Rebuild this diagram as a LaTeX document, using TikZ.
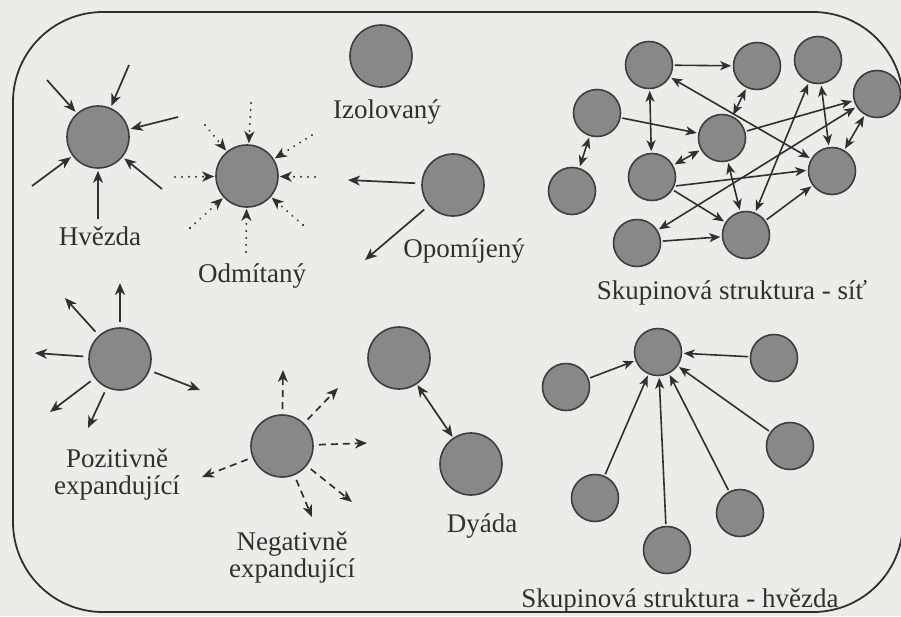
\documentclass[tikz,border=0pt]{standalone}
\usepackage{fontspec}
\setmainfont{Liberation Serif}
\usetikzlibrary{arrows.meta,calc}
\definecolor{bg}{RGB}{236,236,233}
\definecolor{ink}{RGB}{48,48,48}
\definecolor{ballfill}{RGB}{136,136,136}
\definecolor{ballline}{RGB}{62,62,62}
\begin{document}
\begin{tikzpicture}[x=1pt,y=-1pt,
  big/.style={circle,draw=ballline,fill=ballfill,line width=1.6pt,minimum size=62pt,inner sep=0pt},
  small/.style={circle,draw=ballline,fill=ballfill,line width=1.6pt,minimum size=47pt,inner sep=0pt},
  lab/.style={text=ink,font=\fontsize{27}{27}\selectfont,inner sep=0pt},
  tip/.tip={Stealth[length=12pt,width=10pt,inset=3.5pt]},
  stip/.tip={Stealth[length=11pt,width=9pt,inset=3pt]},
  arr/.style={draw=ink,line width=1.7pt,-tip},
  sarr/.style={draw=ink,line width=1.6pt,-stip,shorten >=1.5pt,shorten <=1.5pt},
  sdarr/.style={draw=ink,line width=1.6pt,stip-stip,shorten >=1.5pt,shorten <=1.5pt},
  dotarr/.style={arr,dash pattern=on 0.01pt off 7pt,line cap=round,line width=2.2pt},
  dasharr/.style={arr,dash pattern=on 7pt off 5pt},
]
\useasboundingbox (0,0) rectangle (901,616);
\fill[bg] (0,0) rectangle (901,616);
\draw[ink,line width=1.8pt,rounded corners=90pt] (13,12) rectangle (903,612);

% --- Hvezda
\node[big] (H) at (98,137) {};
\coordinate (h1) at (47,80);
\coordinate (h2) at (129,65);
\coordinate (h3) at (178,117);
\coordinate (h4) at (32,186);
\coordinate (h5) at (98,219);
\coordinate (h6) at (162,189);
\foreach \c in {h1,h2,h3,h4,h5,h6} \draw[arr,shorten >=2pt] (\c) -- (H);
\node[lab,anchor=base] (Hl) at (100,245) {Hvězda};

% --- Odmitany
\node[big] (O) at (247,176) {};
\coordinate (o1) at (251,103);
\coordinate (o2) at (312,135);
\coordinate (o3) at (315,177);
\coordinate (o4) at (303,225);
\coordinate (o5) at (246,252);
\coordinate (o6) at (190,228);
\coordinate (o7) at (175,177);
\coordinate (o8) at (205,125);
\foreach \c in {o1,o2,o3,o4,o5,o6,o7,o8} \draw[dotarr,shorten >=1pt] (\c) -- (O);
\node[lab,anchor=base] (Ol) at (252,282) {Odmítaný};

% --- Izolovany
\node[big] (I) at (381,56) {};
\node[lab,anchor=base] (Il) at (387,118) {Izolovaný};

% --- Opomijeny
\node[big] (Op) at (453,185) {};
\coordinate (op1) at (348,180);
\coordinate (op2) at (365,260);
\draw[arr,shorten <=6pt] (Op) -- (op1);
\draw[arr,shorten <=6pt] (Op) -- (op2);
\node[lab,anchor=base] (Opl) at (464,257) {Opomíjený};

% --- Pozitivne expandujici
\node[big] (P) at (120,359) {};
\coordinate (p1) at (120,283);
\coordinate (p2) at (65,298);
\coordinate (p3) at (35,353);
\coordinate (p4) at (200,390);
\coordinate (p5) at (50,412);
\coordinate (p6) at (88,428);
\foreach \c in {p1,p2,p3,p4,p5,p6} \draw[arr,shorten <=5pt] (P) -- (\c);
\node[lab,align=center] (Pl) at (117,474) {Pozitivně\\expandující};

% --- Negativne expandujici
\node[big] (Nc) at (282,446) {};
\coordinate (n1) at (283,370);
\coordinate (n2) at (338,388);
\coordinate (n3) at (367,443);
\coordinate (n4) at (352,502);
\coordinate (n5) at (312,517);
\coordinate (n6) at (202,477);
\foreach \c in {n1,n2,n3,n4,n5,n6} \draw[dasharr,shorten <=5pt] (Nc) -- (\c);
\node[lab,align=center] (Nl) at (292,557) {Negativně\\expandující};

% --- Dyada
\node[big] (D1) at (399,358) {};
\node[big] (D2) at (471,464) {};
\draw[draw=ink,line width=1.7pt,tip-tip,shorten >=1pt,shorten <=1pt] (D1) -- (D2);
\node[lab,anchor=base] (Dl) at (482,532) {Dyáda};

% --- Skupinova struktura - sit
\node[small] (N1) at (649,65) {};
\node[small] (N2) at (757,66) {};
\node[small] (N3) at (818,60) {};
\node[small] (N4) at (877,94) {};
\node[small] (N5) at (597,113) {};
\node[small] (N6) at (572,191) {};
\node[small] (N7) at (722,138) {};
\node[small] (N8) at (652,177) {};
\node[small] (N9) at (832,171) {};
\node[small] (N10) at (637,243) {};
\node[small] (N11) at (746,235) {};
\draw[sarr] (N1) -- (N2);
\draw[sdarr] (N1) -- (N8);
\draw[sdarr] (N1) -- (N9);
\draw[sarr] (N5) -- (N7);
\draw[sdarr] (N5) -- (N6);
\draw[sdarr] (N2) -- (N7);
\draw[sdarr] (N3) -- (N11);
\draw[sdarr] (N3) -- (N9);
\draw[sarr] (N7) -- (N4);
\draw[sdarr] (N4) -- (N10);
\draw[sdarr] (N4) -- (N9);
\draw[sdarr] (N7) -- (N8);
\draw[sdarr] (N7) -- (N11);
\draw[sarr] (N8.-22) -- (N9.178);
\draw[sarr] (N8) -- (N11);
\draw[sarr] (N10) -- (N11);
\draw[sarr] (N11) -- (N9);
\node[lab,anchor=base] (Sl) at (732,299) {Skupinová struktura - síť};

% --- Skupinova struktura - hvezda
\node[small] (S0) at (658,352) {};
\node[small] (S1) at (566,387) {};
\node[small] (S2) at (774,358) {};
\node[small] (S3) at (790,446) {};
\node[small] (S4) at (595,498) {};
\node[small] (S5) at (667,550) {};
\node[small] (S6) at (740,513) {};
\foreach \s in {S1,S2,S3,S4,S5,S6} \draw[sarr] (\s) -- (S0);
\node[lab,anchor=base] (S2l) at (680,607) {Skupinová struktura - hvězda};
\end{tikzpicture}
\end{document}
